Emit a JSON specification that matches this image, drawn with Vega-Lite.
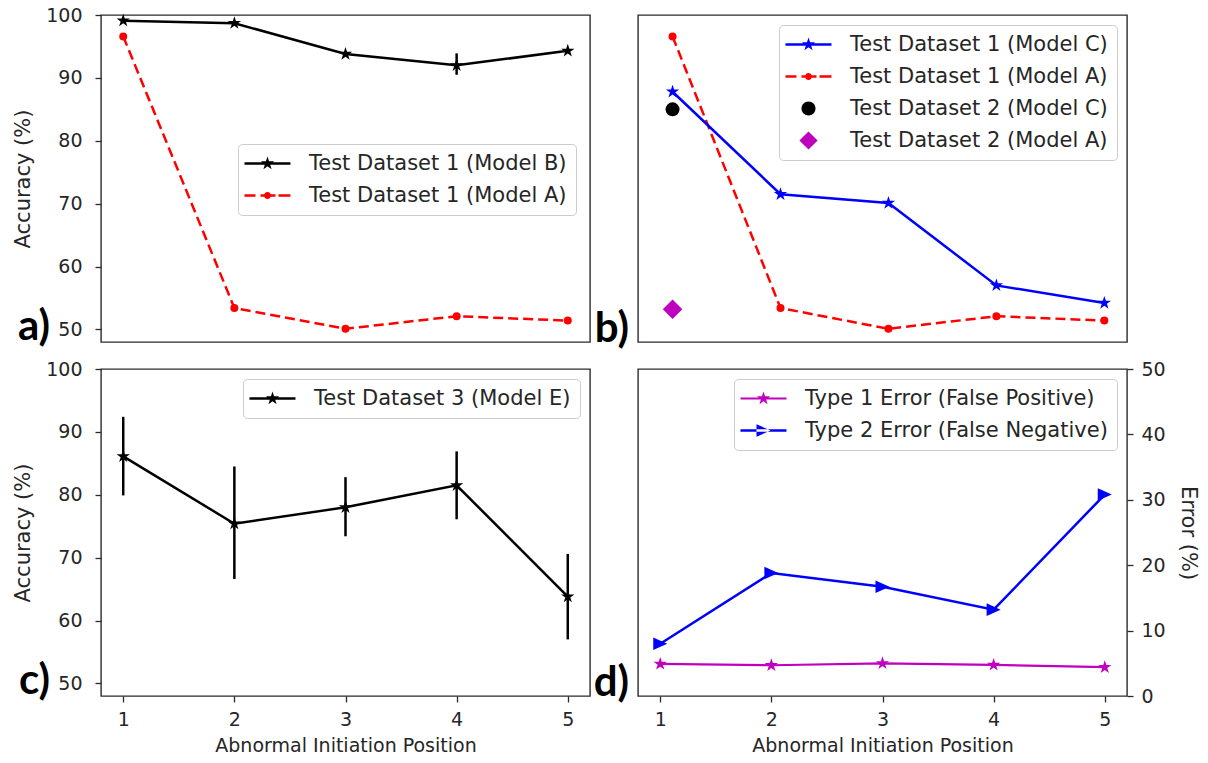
{
  "$schema": "https://vega.github.io/schema/vega-lite/v6.json",
  "background": "white",
  "padding": {"left": 12, "top": 5, "right": 5, "bottom": 5},
  "datasets": {
    "pa": [
      {"series": "Test Dataset 1 (Model B)", "pos": 1, "val": 99.1},
      {"series": "Test Dataset 1 (Model B)", "pos": 2, "val": 98.7},
      {"series": "Test Dataset 1 (Model B)", "pos": 3, "val": 93.8},
      {"series": "Test Dataset 1 (Model B)", "pos": 4, "val": 92.0, "lo": 90.5, "hi": 93.9},
      {"series": "Test Dataset 1 (Model B)", "pos": 5, "val": 94.3},
      {"series": "Test Dataset 1 (Model A)", "pos": 1, "val": 96.6},
      {"series": "Test Dataset 1 (Model A)", "pos": 2, "val": 53.4},
      {"series": "Test Dataset 1 (Model A)", "pos": 3, "val": 50.1},
      {"series": "Test Dataset 1 (Model A)", "pos": 4, "val": 52.1},
      {"series": "Test Dataset 1 (Model A)", "pos": 5, "val": 51.4}
    ],
    "pb": [
      {"series": "Test Dataset 1 (Model C)", "pos": 1, "val": 87.8},
      {"series": "Test Dataset 1 (Model C)", "pos": 2, "val": 71.5},
      {"series": "Test Dataset 1 (Model C)", "pos": 3, "val": 70.1},
      {"series": "Test Dataset 1 (Model C)", "pos": 4, "val": 57.0},
      {"series": "Test Dataset 1 (Model C)", "pos": 5, "val": 54.2},
      {"series": "Test Dataset 1 (Model A)", "pos": 1, "val": 96.6},
      {"series": "Test Dataset 1 (Model A)", "pos": 2, "val": 53.4},
      {"series": "Test Dataset 1 (Model A)", "pos": 3, "val": 50.1},
      {"series": "Test Dataset 1 (Model A)", "pos": 4, "val": 52.1},
      {"series": "Test Dataset 1 (Model A)", "pos": 5, "val": 51.4},
      {"series": "Test Dataset 2 (Model C)", "pos": 1, "val": 85.0},
      {"series": "Test Dataset 2 (Model A)", "pos": 1, "val": 53.2}
    ],
    "pc": [
      {"series": "Test Dataset 3 (Model E)", "pos": 1, "val": 86.1, "lo": 79.9, "hi": 92.4},
      {"series": "Test Dataset 3 (Model E)", "pos": 2, "val": 75.4, "lo": 66.6, "hi": 84.5},
      {"series": "Test Dataset 3 (Model E)", "pos": 3, "val": 78.0, "lo": 73.4, "hi": 82.8},
      {"series": "Test Dataset 3 (Model E)", "pos": 4, "val": 81.5, "lo": 76.1, "hi": 86.9},
      {"series": "Test Dataset 3 (Model E)", "pos": 5, "val": 63.8, "lo": 57.0, "hi": 70.6}
    ],
    "pd": [
      {"series": "Type 1 Error (False Positive)", "pos": 1, "val": 4.9},
      {"series": "Type 1 Error (False Positive)", "pos": 2, "val": 4.7},
      {"series": "Type 1 Error (False Positive)", "pos": 3, "val": 5.0},
      {"series": "Type 1 Error (False Positive)", "pos": 4, "val": 4.75},
      {"series": "Type 1 Error (False Positive)", "pos": 5, "val": 4.4},
      {"series": "Type 2 Error (False Negative)", "pos": 1, "val": 8.0},
      {"series": "Type 2 Error (False Negative)", "pos": 2, "val": 18.8},
      {"series": "Type 2 Error (False Negative)", "pos": 3, "val": 16.7},
      {"series": "Type 2 Error (False Negative)", "pos": 4, "val": 13.2},
      {"series": "Type 2 Error (False Negative)", "pos": 5, "val": 30.8}
    ]
  },
  "columns": 2,
  "spacing": {"row": 8, "column": 1},
  "resolve": {
    "scale": {"color": "independent", "shape": "independent"},
    "legend": {"color": "independent", "shape": "independent"}
  },
  "concat": [
    {
      "width": 489, "height": 327,
      "data": {"name": "pa"},
      "layer": [
        {"transform": [{"filter": "datum.series === 'Test Dataset 1 (Model A)'"}],
         "mark": {"type": "line", "color": "#ff0000", "strokeWidth": 2.5, "strokeDash": [10, 5]},
         "encoding": {
           "x": {"field": "pos", "type": "quantitative", "scale": {"domain": [0.8, 5.2], "nice": false, "zero": false}, "axis": null},
           "y": {"field": "val", "type": "quantitative", "scale": {"domain": [48, 100], "nice": false, "zero": false},
                 "axis": {"values": [50, 60, 70, 80, 90, 100], "title": "Accuracy (%)", "titlePadding": 12, "titleFontSize": 21}}
         }},
        {"transform": [{"filter": "datum.series === 'Test Dataset 1 (Model A)'"}],
         "mark": {"type": "point", "shape": "circle", "filled": true, "color": "#ff0000", "size": 64, "opacity": 1},
         "encoding": {"x": {"field": "pos", "type": "quantitative"}, "y": {"field": "val", "type": "quantitative"}}},
        {"transform": [{"filter": "datum.series === 'Test Dataset 1 (Model B)'"}],
         "mark": {"type": "line", "color": "#000000", "strokeWidth": 2.5},
         "encoding": {"x": {"field": "pos", "type": "quantitative"}, "y": {"field": "val", "type": "quantitative"}}},
        {"transform": [{"filter": "datum.series === 'Test Dataset 1 (Model B)' && isValid(datum.lo)"}],
         "mark": {"type": "rule", "color": "#000000", "strokeWidth": 2.5},
         "encoding": {"x": {"field": "pos", "type": "quantitative"}, "y": {"field": "lo", "type": "quantitative"}, "y2": {"field": "hi"}}},
        {"transform": [{"filter": "datum.series === 'Test Dataset 1 (Model B)'"}],
         "mark": {"type": "point", "shape": "M0,-1L0.225,-0.309L0.951,-0.309L0.363,0.118L0.588,0.809L0,0.382L-0.588,0.809L-0.363,0.118L-0.951,-0.309L-0.225,-0.309Z", "filled": true, "color": "#000000", "size": 196, "opacity": 1},
         "encoding": {"x": {"field": "pos", "type": "quantitative"}, "y": {"field": "val", "type": "quantitative"}}},
        {"transform": [{"filter": "false"}],
         "mark": {"type": "point", "filled": true, "size": 196, "opacity": 1},
         "encoding": {
           "x": {"field": "pos", "type": "quantitative"}, "y": {"field": "val", "type": "quantitative"},
           "color": {"field": "series", "type": "nominal",
                     "scale": {"domain": ["Test Dataset 1 (Model B)", "Test Dataset 1 (Model A)"], "range": ["#000000", "#ff0000"]},
                     "legend": {"orient": "none", "legendX": 137, "legendY": 129, "title": null}},
           "shape": {"field": "series", "type": "nominal",
                     "scale": {"domain": ["Test Dataset 1 (Model B)", "Test Dataset 1 (Model A)"],
                               "range": ["M-1.86,-0.18H4.71V0.18H-1.86Z M1.43,-1L1.655,-0.309L2.381,-0.309L1.793,0.118L2.018,0.809L1.43,0.382L0.842,0.809L1.067,0.118L0.479,-0.309L1.205,-0.309Z",
                                         "M-1.86,-0.18H-0.29V0.18H-1.86Z M0.43,-0.18H2.57V0.18H0.43Z M3,-0.18H4.71V0.18H3Z M0.93,0A0.5,0.5 0 1,1 1.93,0A0.5,0.5 0 1,1 0.93,0Z"]},
                     "legend": {"orient": "none", "legendX": 137, "legendY": 129, "title": null}}
         }},
        {"data": {"values": [{"t": "a)"}]},
         "mark": {"type": "text", "font": "Lato", "fontWeight": "bold", "fontSize": 42, "align": "right", "baseline": "alphabetic", "dx": -51, "dy": -2, "color": "#000000"},
         "encoding": {"x": {"datum": 0.8, "type": "quantitative"}, "y": {"datum": 48, "type": "quantitative"}, "text": {"field": "t"}}}
      ]
    },
    {
      "width": 489, "height": 327,
      "data": {"name": "pb"},
      "layer": [
        {"transform": [{"filter": "datum.series === 'Test Dataset 1 (Model A)'"}],
         "mark": {"type": "line", "color": "#ff0000", "strokeWidth": 2.5, "strokeDash": [10, 5]},
         "encoding": {
           "x": {"field": "pos", "type": "quantitative", "scale": {"domain": [0.68, 5.21], "nice": false, "zero": false}, "axis": null},
           "y": {"field": "val", "type": "quantitative", "scale": {"domain": [48, 100], "nice": false, "zero": false}, "axis": null}
         }},
        {"transform": [{"filter": "datum.series === 'Test Dataset 1 (Model A)'"}],
         "mark": {"type": "point", "shape": "circle", "filled": true, "color": "#ff0000", "size": 64, "opacity": 1},
         "encoding": {"x": {"field": "pos", "type": "quantitative", "axis": null}, "y": {"field": "val", "type": "quantitative", "axis": null}}},
        {"transform": [{"filter": "datum.series === 'Test Dataset 1 (Model C)'"}],
         "mark": {"type": "line", "color": "#0000ff", "strokeWidth": 2.5},
         "encoding": {"x": {"field": "pos", "type": "quantitative", "axis": null}, "y": {"field": "val", "type": "quantitative", "axis": null}}},
        {"transform": [{"filter": "datum.series === 'Test Dataset 1 (Model C)'"}],
         "mark": {"type": "point", "shape": "M0,-1L0.225,-0.309L0.951,-0.309L0.363,0.118L0.588,0.809L0,0.382L-0.588,0.809L-0.363,0.118L-0.951,-0.309L-0.225,-0.309Z", "filled": true, "color": "#0000ff", "size": 196, "opacity": 1},
         "encoding": {"x": {"field": "pos", "type": "quantitative", "axis": null}, "y": {"field": "val", "type": "quantitative", "axis": null}}},
        {"transform": [{"filter": "datum.series === 'Test Dataset 2 (Model C)'"}],
         "mark": {"type": "point", "shape": "circle", "filled": true, "color": "#000000", "size": 196, "opacity": 1},
         "encoding": {"x": {"field": "pos", "type": "quantitative", "axis": null}, "y": {"field": "val", "type": "quantitative", "axis": null}}},
        {"transform": [{"filter": "datum.series === 'Test Dataset 2 (Model A)'"}],
         "mark": {"type": "point", "shape": "diamond", "filled": true, "color": "#bf00bf", "size": 380, "opacity": 1},
         "encoding": {"x": {"field": "pos", "type": "quantitative", "axis": null}, "y": {"field": "val", "type": "quantitative", "axis": null}}},
        {"transform": [{"filter": "false"}],
         "mark": {"type": "point", "filled": true, "size": 196, "opacity": 1},
         "encoding": {
           "x": {"field": "pos", "type": "quantitative", "axis": null}, "y": {"field": "val", "type": "quantitative", "axis": null},
           "color": {"field": "series", "type": "nominal",
                     "scale": {"domain": ["Test Dataset 1 (Model C)", "Test Dataset 1 (Model A)", "Test Dataset 2 (Model C)", "Test Dataset 2 (Model A)"], "range": ["#0000ff", "#ff0000", "#000000", "#bf00bf"]},
                     "legend": {"orient": "top-right", "offset": 10, "title": null}},
           "shape": {"field": "series", "type": "nominal",
                     "scale": {"domain": ["Test Dataset 1 (Model C)", "Test Dataset 1 (Model A)", "Test Dataset 2 (Model C)", "Test Dataset 2 (Model A)"],
                               "range": ["M-1.86,-0.18H4.71V0.18H-1.86Z M1.43,-1L1.655,-0.309L2.381,-0.309L1.793,0.118L2.018,0.809L1.43,0.382L0.842,0.809L1.067,0.118L0.479,-0.309L1.205,-0.309Z",
                                         "M-1.86,-0.18H-0.29V0.18H-1.86Z M0.43,-0.18H2.57V0.18H0.43Z M3,-0.18H4.71V0.18H3Z M0.93,0A0.5,0.5 0 1,1 1.93,0A0.5,0.5 0 1,1 0.93,0Z",
                                         "M0.43,0A1,1 0 1,1 2.43,0A1,1 0 1,1 0.43,0Z",
                                         "M1.43,-1.3L2.73,0L1.43,1.3L0.13,0Z"]},
                     "legend": {"orient": "top-right", "offset": 10, "title": null}}
         }},
        {"data": {"values": [{"t": "b)"}]},
         "mark": {"type": "text", "font": "Lato", "fontWeight": "bold", "fontSize": 42, "align": "right", "baseline": "alphabetic", "dx": -9, "dy": 0, "color": "#000000"},
         "encoding": {"x": {"datum": 0.68, "type": "quantitative", "axis": null}, "y": {"datum": 48, "type": "quantitative", "axis": null}, "text": {"field": "t"}}}
      ]
    },
    {
      "width": 489, "height": 327,
      "data": {"name": "pc"},
      "layer": [
        {"mark": {"type": "rule", "color": "#000000", "strokeWidth": 2.5},
         "encoding": {
           "x": {"field": "pos", "type": "quantitative", "scale": {"domain": [0.8, 5.2], "nice": false, "zero": false},
                 "axis": {"values": [1, 2, 3, 4, 5], "format": "d", "title": "Abnormal Initiation Position", "labelPadding": 8, "titlePadding": 7}},
           "y": {"field": "lo", "type": "quantitative", "scale": {"domain": [48, 100], "nice": false, "zero": false},
                 "axis": {"values": [50, 60, 70, 80, 90, 100], "title": "Accuracy (%)", "titlePadding": 12, "titleFontSize": 21}},
           "y2": {"field": "hi"}}},
        {"mark": {"type": "line", "color": "#000000", "strokeWidth": 2.5},
         "encoding": {"x": {"field": "pos", "type": "quantitative"}, "y": {"field": "val", "type": "quantitative"}}},
        {"mark": {"type": "point", "shape": "M0,-1L0.225,-0.309L0.951,-0.309L0.363,0.118L0.588,0.809L0,0.382L-0.588,0.809L-0.363,0.118L-0.951,-0.309L-0.225,-0.309Z", "filled": true, "color": "#000000", "size": 196, "opacity": 1},
         "encoding": {"x": {"field": "pos", "type": "quantitative"}, "y": {"field": "val", "type": "quantitative"}}},
        {"transform": [{"filter": "false"}],
         "mark": {"type": "point", "filled": true, "size": 196, "opacity": 1},
         "encoding": {
           "x": {"field": "pos", "type": "quantitative"}, "y": {"field": "val", "type": "quantitative"},
           "color": {"field": "series", "type": "nominal",
                     "scale": {"domain": ["Test Dataset 3 (Model E)"], "range": ["#000000"]},
                     "legend": {"orient": "top-right", "offset": 10, "title": null}},
           "shape": {"field": "series", "type": "nominal",
                     "scale": {"domain": ["Test Dataset 3 (Model E)"],
                               "range": ["M-1.86,-0.18H4.71V0.18H-1.86Z M1.43,-1L1.655,-0.309L2.381,-0.309L1.793,0.118L2.018,0.809L1.43,0.382L0.842,0.809L1.067,0.118L0.479,-0.309L1.205,-0.309Z"]},
                     "legend": {"orient": "top-right", "offset": 10, "title": null}}
         }},
        {"data": {"values": [{"t": "c)"}]},
         "mark": {"type": "text", "font": "Lato", "fontWeight": "bold", "fontSize": 42, "align": "right", "baseline": "alphabetic", "dx": -51, "dy": -2, "color": "#000000"},
         "encoding": {"x": {"datum": 0.8, "type": "quantitative"}, "y": {"datum": 48, "type": "quantitative"}, "text": {"field": "t"}}}
      ]
    },
    {
      "width": 489, "height": 327,
      "data": {"name": "pd"},
      "layer": [
        {"transform": [{"filter": "datum.series === 'Type 1 Error (False Positive)'"}],
         "mark": {"type": "line", "color": "#bf00bf", "strokeWidth": 2.2},
         "encoding": {
           "x": {"field": "pos", "type": "quantitative", "scale": {"domain": [0.8, 5.2], "nice": false, "zero": false},
                 "axis": {"values": [1, 2, 3, 4, 5], "format": "d", "title": "Abnormal Initiation Position", "labelPadding": 8, "titlePadding": 7}},
           "y": {"field": "val", "type": "quantitative", "scale": {"domain": [0, 50], "nice": false, "zero": false},
                 "axis": {"orient": "right", "values": [0, 10, 20, 30, 40, 50], "title": "Error (%)", "titlePadding": 12, "labelPadding": 8, "titleFontSize": 21}}
         }},
        {"transform": [{"filter": "datum.series === 'Type 1 Error (False Positive)'"}],
         "mark": {"type": "point", "shape": "M0,-1L0.225,-0.309L0.951,-0.309L0.363,0.118L0.588,0.809L0,0.382L-0.588,0.809L-0.363,0.118L-0.951,-0.309L-0.225,-0.309Z", "filled": true, "color": "#bf00bf", "size": 196, "opacity": 1},
         "encoding": {"x": {"field": "pos", "type": "quantitative"}, "y": {"field": "val", "type": "quantitative"}}},
        {"transform": [{"filter": "datum.series === 'Type 2 Error (False Negative)'"}],
         "mark": {"type": "line", "color": "#0000ff", "strokeWidth": 2.5},
         "encoding": {"x": {"field": "pos", "type": "quantitative"}, "y": {"field": "val", "type": "quantitative"}}},
        {"transform": [{"filter": "datum.series === 'Type 2 Error (False Negative)'"}],
         "mark": {"type": "point", "shape": "M1,0L-1,-0.9L-1,0.9Z", "filled": true, "color": "#0000ff", "size": 196, "opacity": 1},
         "encoding": {"x": {"field": "pos", "type": "quantitative"}, "y": {"field": "val", "type": "quantitative"}}},
        {"transform": [{"filter": "false"}],
         "mark": {"type": "point", "filled": true, "size": 196, "opacity": 1},
         "encoding": {
           "x": {"field": "pos", "type": "quantitative"}, "y": {"field": "val", "type": "quantitative"},
           "color": {"field": "series", "type": "nominal",
                     "scale": {"domain": ["Type 1 Error (False Positive)", "Type 2 Error (False Negative)"], "range": ["#bf00bf", "#0000ff"]},
                     "legend": {"orient": "top-right", "offset": 10, "title": null}},
           "shape": {"field": "series", "type": "nominal",
                     "scale": {"domain": ["Type 1 Error (False Positive)", "Type 2 Error (False Negative)"],
                               "range": ["M-1.86,-0.16H4.71V0.16H-1.86Z M1.43,-1L1.655,-0.309L2.381,-0.309L1.793,0.118L2.018,0.809L1.43,0.382L0.842,0.809L1.067,0.118L0.479,-0.309L1.205,-0.309Z",
                                         "M-1.86,-0.18H4.71V0.18H-1.86Z M2.43,0L0.43,-0.9L0.43,0.9Z"]},
                     "legend": {"orient": "top-right", "offset": 10, "title": null}}
         }},
        {"data": {"values": [{"t": "d)"}]},
         "mark": {"type": "text", "font": "Lato", "fontWeight": "bold", "fontSize": 42, "align": "right", "baseline": "alphabetic", "dx": -9, "dy": 0, "color": "#000000"},
         "encoding": {"x": {"datum": 0.8, "type": "quantitative"}, "y": {"datum": 0, "type": "quantitative"}, "text": {"field": "t"}}}
      ]
    }
  ],
  "config": {
    "font": "DejaVu Sans",
    "view": {"stroke": "#2b2b2b", "strokeWidth": 1.4},
    "axis": {
      "grid": false, "domain": false,
      "tickColor": "#2b2b2b", "tickSize": 6, "tickWidth": 1.3,
      "labelFont": "DejaVu Sans", "labelFontSize": 19, "labelColor": "#262626", "labelPadding": 13,
      "titleFont": "DejaVu Sans", "titleFontSize": 19, "titleFontWeight": "normal", "titleColor": "#262626"
    },
    "legend": {
      "labelFont": "DejaVu Sans", "labelFontSize": 21, "labelColor": "#262626", "labelLimit": 600,
      "fillColor": "rgba(255,255,255,0.85)", "strokeColor": "#cccccc", "cornerRadius": 4,
      "padding": 9, "rowPadding": 10, "symbolSize": 196, "labelOffset": 41, "symbolStrokeWidth": 0
    }
  }
}
